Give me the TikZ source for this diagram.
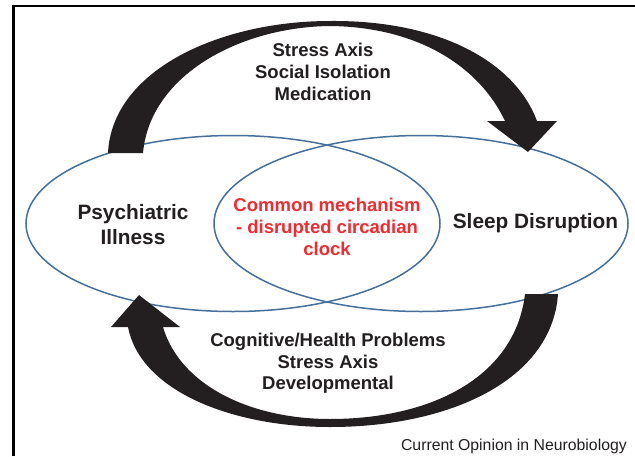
\documentclass[tikz,border=0pt]{standalone}
\usepackage{fontspec}
\setmainfont{Liberation Sans}
\usetikzlibrary{shapes.geometric}
\definecolor{inkblack}{RGB}{35,31,32}
\definecolor{ovalblue}{RGB}{70,112,155}
\definecolor{mechred}{RGB}{236,45,50}
\tikzset{
  oval/.style={draw=ovalblue, line width=1.5pt, ellipse, minimum width=414pt, minimum height=176pt, inner sep=0pt},
  bigarrow/.style={fill=inkblack},
  labeltext/.style={text=inkblack, font=\bfseries\fontsize{18.5}{21.7}\selectfont, align=center, inner sep=0pt},
  sidetext/.style={text=inkblack, font=\bfseries\fontsize{20.8}{24.5}\selectfont, align=center, inner sep=0pt},
  redtext/.style={text=mechred, font=\bfseries\fontsize{18.5}{21.7}\selectfont, align=center, inner sep=0pt},
  credit/.style={text=inkblack, font=\fontsize{15.8}{18}\selectfont, inner sep=0pt}
}
\begin{document}
\begin{tikzpicture}[x=1pt,y=-1pt]
\useasboundingbox (0,0) rectangle (635,456);
\fill[white] (0,0) rectangle (635,456);
% frame
\draw[black, line width=2.5pt] (13.5,456) -- (13.5,6) -- (635,6);
% ovals
\node[oval] (left) at (233,223.5) {};
\node[oval] (right) at (421,223.5) {};
% top arrow
\fill[bigarrow] (108,153) .. controls (112,70) and (220,21) .. (330,21)
  .. controls (440,20) and (515,62) .. (537,121) -- (557,121) -- (528,152) -- (487,121) -- (505,121)
  .. controls (480,68) and (420,27) .. (330,26)
  .. controls (240,27) and (150,75) .. (143,153) -- cycle;
% bottom arrow
\fill[bigarrow] (558,294) .. controls (552,380) and (450,427) .. (330,427)
  .. controls (230,427) and (140,390) .. (128,327) -- (111,327) -- (139,295) -- (180,327) -- (163,327)
  .. controls (180,385) and (250,419) .. (330,419)
  .. controls (430,419) and (515,378) .. (525,294) -- cycle;
% labels
\node[labeltext] (toplabel) at (323,71.8) {Stress Axis\\Social Isolation\\Medication};
\node[labeltext] (bottomlabel) at (328,363.5) {Cognitive/Health Problems\\Stress Axis\\Developmental};
\node[redtext] (mech) at (327,226.8) {Common mechanism\\- disrupted circadian\\clock};
\node[sidetext] (psych) at (133,224.5) {Psychiatric\\Illness};
\node[sidetext, anchor=base] (sleep) at (535.5,228) {Sleep Disruption};
\node[credit, anchor=base east] (journal) at (627,450) {Current Opinion in Neurobiology};
\end{tikzpicture}
\end{document}
